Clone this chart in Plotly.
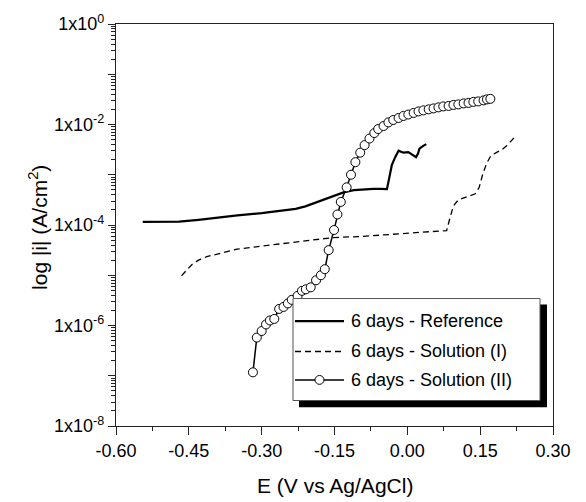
import plotly.graph_objects as go

# ---------------- data ----------------
ref_E = [-0.545, -0.50, -0.47, -0.43, -0.39, -0.35, -0.30, -0.25, -0.23, -0.21, -0.19, -0.17,
         -0.15, -0.13, -0.11, -0.09, -0.07, -0.055, -0.042, -0.038, -0.032, -0.025, -0.018,
         -0.013, -0.008, 0.002, 0.010, 0.018, 0.022, 0.025, 0.032, 0.039]
ref_i = [1.15e-4, 1.15e-4, 1.17e-4, 1.27e-4, 1.42e-4, 1.55e-4, 1.73e-4, 1.95e-4, 2.10e-4, 2.35e-4,
         2.75e-4, 3.30e-4, 3.90e-4, 4.50e-4, 4.95e-4, 5.15e-4, 5.25e-4, 5.25e-4, 5.20e-4, 7.94e-4,
         1.55e-3, 2.24e-3, 3.02e-3, 2.88e-3, 2.75e-3, 2.82e-3, 2.51e-3, 2.24e-3, 2.63e-3, 3.31e-3,
         3.72e-3, 4.07e-3]

sol1_E = [-0.465, -0.455, -0.444, -0.43, -0.413, -0.38, -0.351, -0.30, -0.248, -0.20, -0.153,
          -0.097, -0.05, 0.0, 0.04, 0.081, 0.088, 0.095, 0.105, 0.120, 0.140, 0.148, 0.155,
          0.163, 0.172, 0.185, 0.195, 0.205, 0.215, 0.224]
sol1_i = [9.8e-6, 1.26e-5, 1.62e-5, 2.0e-5, 2.34e-5, 2.82e-5, 3.31e-5, 3.80e-5, 4.37e-5, 5.01e-5,
          5.62e-5, 5.89e-5, 6.31e-5, 6.76e-5, 7.24e-5, 7.76e-5, 1.41e-4, 2.40e-4, 3.16e-4, 3.55e-4,
          4.17e-4, 5.62e-4, 1.0e-3, 1.66e-3, 2.40e-3, 2.82e-3, 3.16e-3, 3.80e-3, 4.79e-3, 6.03e-3]

sol2_E = [-0.318, -0.310, -0.300, -0.291, -0.283, -0.274, -0.264, -0.255, -0.246, -0.238, -0.226,
          -0.217, -0.209, -0.199, -0.188, -0.178, -0.170, -0.162, -0.151, -0.144, -0.137, -0.125,
          -0.116, -0.107, -0.097, -0.088, -0.078, -0.068, -0.060, -0.049, -0.039, -0.029, -0.018,
          -0.008, 0.002, 0.013, 0.023, 0.033, 0.044, 0.054, 0.064, 0.074, 0.085, 0.095, 0.105,
          0.116, 0.126, 0.136, 0.146, 0.157, 0.164, 0.171]
sol2_i = [1.17e-7, 5.75e-7, 7.76e-7, 1.05e-6, 1.26e-6, 1.35e-6, 2.14e-6, 2.34e-6, 2.75e-6, 3.24e-6,
          3.89e-6, 4.90e-6, 5.25e-6, 5.75e-6, 7.94e-6, 1.0e-5, 1.32e-5, 3.16e-5, 7.94e-5, 1.62e-4,
          2.88e-4, 5.62e-4, 1.0e-3, 1.78e-3, 2.75e-3, 3.89e-3, 5.25e-3, 6.76e-3, 8.13e-3, 9.33e-3,
          1.10e-2, 1.23e-2, 1.35e-2, 1.48e-2, 1.58e-2, 1.70e-2, 1.82e-2, 1.91e-2, 2.0e-2, 2.09e-2,
          2.19e-2, 2.29e-2, 2.34e-2, 2.45e-2, 2.51e-2, 2.63e-2, 2.69e-2, 2.82e-2, 2.88e-2, 3.02e-2,
          3.16e-2, 3.24e-2]

series_names = ["6 days - Reference", "6 days - Solution (I)", "6 days - Solution (II)"]

x_ticks = [-0.60, -0.45, -0.30, -0.15, 0.00, 0.15, 0.30]
x_ticktext = ["-0.60", "-0.45", "-0.30", "-0.15", "0.00", "0.15", "0.30"]
y_exps = [0, -1, -2, -3, -4, -5, -6, -7, -8]
y_labelled = [0, -2, -4, -6, -8]

# ---------------- layout helpers ----------------
W, H = 586, 502
L, R, T, B = 116, 553, 16, 426
FONT = "Liberation Sans, Arial, sans-serif"


def px(x):
    return (x - L) / (R - L)


def py(y):
    return (B - y) / (B - T)


fig = go.Figure()
fig.add_trace(go.Scatter(x=ref_E, y=ref_i, mode="lines", name=series_names[0],
                         line=dict(color="black", width=2.2), showlegend=False))
fig.add_trace(go.Scatter(x=sol1_E, y=sol1_i, mode="lines", name=series_names[1],
                         line=dict(color="black", width=1.3, dash="6px,4px"), showlegend=False))
fig.add_trace(go.Scatter(x=sol2_E, y=sol2_i, mode="lines+markers", name=series_names[2],
                         line=dict(color="black", width=1.5),
                         marker=dict(symbol="circle", size=9, color="white",
                                     line=dict(color="black", width=1)),
                         showlegend=False))

y_tickvals = [10.0 ** e for e in y_exps]
y_ticktext = [("1x10<sup>%d</sup>" % e) if e in y_labelled else "" for e in y_exps]
y_minor = [k * 10.0 ** e for e in range(-8, 0) for k in range(2, 10)]

fig.update_xaxes(range=[-0.6, 0.3], tickmode="array", tickvals=x_ticks, ticktext=x_ticktext,
                 ticks="outside", ticklen=8, tickwidth=1, tickcolor="#222",
                 showline=True, linecolor="#222", linewidth=1.2, mirror=True,
                 showgrid=False, zeroline=False,
                 minor=dict(tickvals=[-0.525, -0.375, -0.225, -0.075, 0.075, 0.225],
                            ticks="outside", ticklen=4, tickcolor="#222", showgrid=False),
                 tickfont=dict(family=FONT, size=18, color="black"))
fig.update_yaxes(type="log", range=[-8, 0], tickmode="array", tickvals=y_tickvals,
                 ticktext=y_ticktext, ticks="outside", ticklen=7, tickwidth=1, tickcolor="#222",
                 showline=True, linecolor="#222", linewidth=1.2, mirror=True,
                 showgrid=False, zeroline=False,
                 minor=dict(tickvals=y_minor, ticks="outside", ticklen=4, tickcolor="#222",
                            showgrid=False),
                 tickfont=dict(family=FONT, size=18, color="black"))

shapes = []
annotations = []
# legend shadow and box
shapes.append(dict(type="rect", xref="paper", yref="paper", x0=px(299), x1=px(547),
                   y0=py(302), y1=py(407), fillcolor="black", line=dict(width=0), layer="above"))
shapes.append(dict(type="rect", xref="paper", yref="paper", x0=px(293), x1=px(540),
                   y0=py(296), y1=py(400), fillcolor="white", line=dict(color="#555", width=1),
                   layer="above"))
rows = [319, 350, 379]
# sample lines
shapes.append(dict(type="line", xref="paper", yref="paper", x0=px(295), x1=px(344),
                   y0=py(rows[0]), y1=py(rows[0]), line=dict(color="black", width=2.2),
                   layer="above"))
shapes.append(dict(type="line", xref="paper", yref="paper", x0=px(295), x1=px(344),
                   y0=py(rows[1]), y1=py(rows[1]), line=dict(color="black", width=1.3, dash="6px,4px"),
                   layer="above"))
shapes.append(dict(type="line", xref="paper", yref="paper", x0=px(295), x1=px(344),
                   y0=py(rows[2]), y1=py(rows[2]), line=dict(color="black", width=1.5),
                   layer="above"))
shapes.append(dict(type="circle", xref="paper", yref="paper", x0=px(315), x1=px(324),
                   y0=py(rows[2] + 4.5), y1=py(rows[2] - 4.5), fillcolor="white",
                   line=dict(color="black", width=1), layer="above"))
for r, name in zip(rows, series_names):
    annotations.append(dict(x=px(349), y=py(r), xref="paper", yref="paper", text=name,
                            showarrow=False, xanchor="left", yanchor="middle",
                            font=dict(family=FONT, size=18, color="black")))

# axis titles
annotations.append(dict(x=px(334.5), y=py(487), xref="paper", yref="paper",
                        text="E (V vs Ag/AgCl)", showarrow=False, xanchor="center",
                        yanchor="middle", font=dict(family=FONT, size=21, color="black")))
annotations.append(dict(x=px(38), y=py(224), xref="paper", yref="paper",
                        text="log |i| (A/cm<sup>2</sup>)", showarrow=False, textangle=-90,
                        xanchor="center", yanchor="middle",
                        font=dict(family=FONT, size=21, color="black")))

fig.update_layout(width=W, height=H, margin=dict(l=L, r=W - R, t=T, b=H - B),
                  paper_bgcolor="white", plot_bgcolor="white", showlegend=False,
                  shapes=shapes, annotations=annotations)

fig.write_html("out.html", config={"displayModeBar": False},
               post_script="document.body.style.margin='0';document.body.style.overflow='hidden';")
